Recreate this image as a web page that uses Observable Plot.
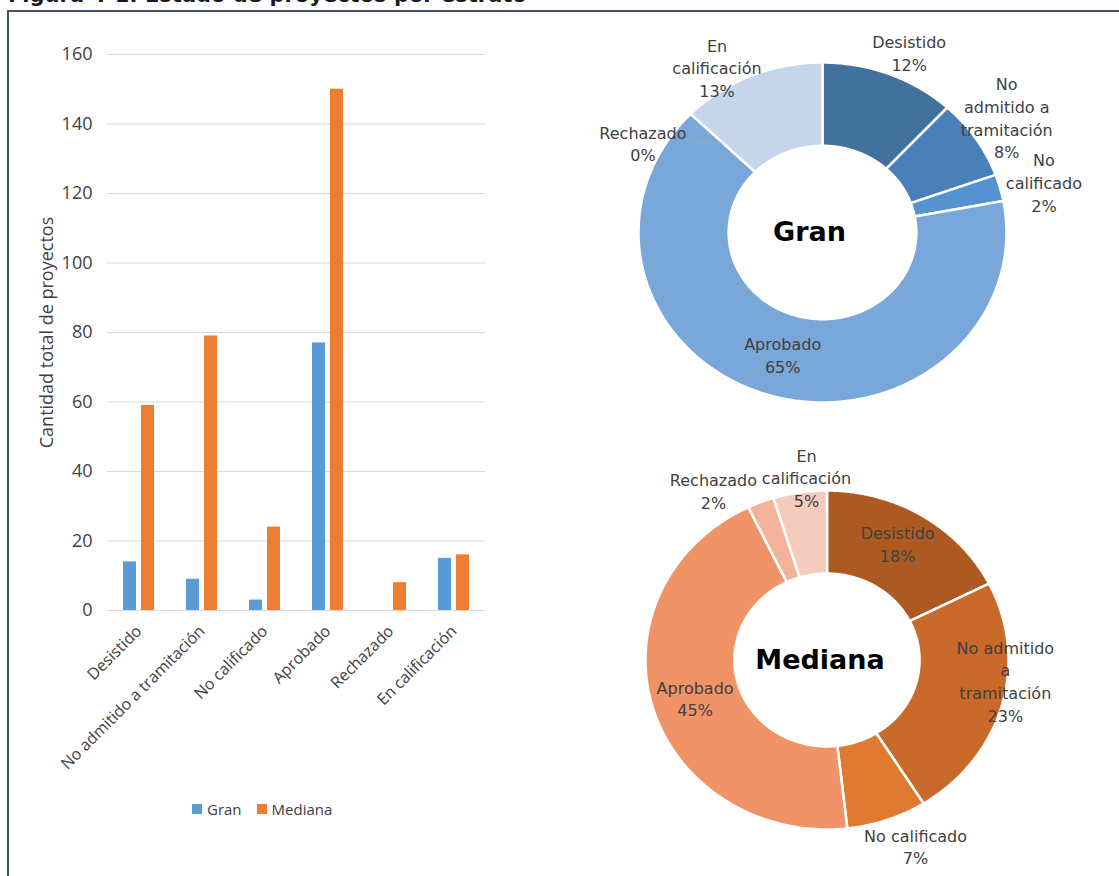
<!DOCTYPE html>
<html>
<head>
<meta charset="utf-8">
<script src="https://cdn.jsdelivr.net/npm/d3@7"></script>
<script src="https://cdn.jsdelivr.net/npm/@observablehq/plot@0.6"></script>
<style>
  html, body { margin: 0; padding: 0; background: #fff; }
  body { width: 1119px; height: 876px; overflow: hidden; position: relative; }
  #title { position: absolute; left: 8px; top: -15px; font: bold 21px "DejaVu Sans", sans-serif; line-height: 21px; color: #1a1a1a; white-space: nowrap; }
  #frame { position: absolute; left: 7px; top: 10px; width: 1300px; height: 1000px; border: 2px solid #44546a; box-sizing: border-box; }
  .pane { position: absolute; }
  .pane svg { overflow: visible; }
  #legend span { margin-right: 15px !important; }
  #legend svg { margin-right: 5px !important; }
</style>
</head>
<body>
<div id="title">Figura 4-1: Estado de proyectos por estrato</div>
<div id="frame"></div>
<div id="bars" class="pane" style="left:0;top:0;"></div>
<div id="legend" class="pane" style="left:192px;top:792px;"></div>
<div id="gran" class="pane" style="left:590px;top:20px;"></div>
<div id="mediana" class="pane" style="left:590px;top:430px;"></div>
<script>
// ---------------- data ----------------
const categories = ["Desistido", "No admitido a tramitación", "No calificado", "Aprobado", "Rechazado", "En calificación"];
const series = ["Gran", "Mediana"];
const granCounts = [14, 9, 3, 77, 0, 15];
const medianaCounts = [59, 79, 24, 150, 8, 16];
const yTicks = [0, 20, 40, 60, 80, 100, 120, 140, 160];
const granPctLabels = ["12%", "8%", "2%", "65%", "0%", "13%"];
const medianaPctLabels = ["18%", "23%", "7%", "45%", "2%", "5%"];
const granLabelNames = ["Desistido", "No\nadmitido a\ntramitación", "No\ncalificado", "Aprobado", "Rechazado", "En\ncalificación"];
const medianaLabelNames = ["Desistido", "No admitido\na\ntramitación", "No calificado", "Aprobado", "Rechazado", "En\ncalificación"];

// ---------------- styles ----------------
const seriesColors = ["#5b9bd5", "#ed7d31"];
const granColors = ["#41719c", "#4a80ba", "#5593d0", "#7aa7da", "#a9c3e6", "#c5d5ea"];
const medianaColors = ["#ad5a22", "#c9692a", "#df7a30", "#f09366", "#f3b39b", "#f5cbbd"];
// label placement: radius (in outer-radius units) and angular nudge (degrees) from slice middle
const granLabelLayout = [
  {r: 1.16, nudge: 2.6}, {r: 1.21, nudge: -0.6}, {r: 1.24, nudge: 1.3},
  {r: 0.75, nudge: 0}, {r: 1.11, nudge: -15.8, leader: true}, {r: 1.13, nudge: -7.6}
];
const medianaLabelLayout = [
  {r: 0.79, nudge: -2.1}, {r: 0.99, nudge: -8.5}, {r: 1.2, nudge: -4.7},
  {r: 0.76, nudge: -0.9}, {r: 1.18, nudge: -10.6}, {r: 1.085, nudge: 2.6}
];
const innerRatio = 0.51;

// ---------------- bar chart ----------------
const barData = categories.flatMap((c, i) => [
  {cat: c, series: "Gran", value: granCounts[i]},
  {cat: c, series: "Mediana", value: medianaCounts[i]}
]);

const bars = Plot.plot({
  width: 590, height: 876,
  marginLeft: 105, marginRight: 103, marginTop: 54, marginBottom: 266,
  style: {fontFamily: "'Open Sans', sans-serif", fontSize: "16px", color: "#404040", background: "transparent"},
  fx: {domain: categories, padding: 0, label: null, axis: "bottom", tickRotate: -45, tickSize: 0, tickPadding: 18},
  x: {domain: series, paddingInner: 0.263, paddingOuter: 0.807, axis: null},
  y: {domain: [0, 160], axis: null},
  color: {domain: series, range: seriesColors},
  marks: [
    Plot.gridY(yTicks, {stroke: "#d9d9d9", strokeOpacity: 1, strokeWidth: 1}),
    Plot.barY(barData, {fx: "cat", x: "series", y: "value", fill: "series"}),
    Plot.axisY(yTicks, {anchor: "left", tickSize: 0, tickPadding: 15, fontSize: 18,
      label: "Cantidad total de proyectos", labelAnchor: "center", labelArrow: "none", labelOffset: 67})
  ]
});
document.getElementById("bars").append(bars);

const legend = Plot.legend({
  color: {domain: series, range: seriesColors},
  swatchSize: 10,
  style: {fontFamily: "'Open Sans', sans-serif", fontSize: "15px", color: "#404040"}
});
document.getElementById("legend").append(legend);

// ---------------- donuts ----------------
function donut({counts, pctLabels, names, colors, title, titleDx, layout, width, height, margins}) {
  const arcs = d3.pie().sort(null).value(d => d)(counts);
  const rows = [];
  arcs.forEach((a, i) => {
    const span = a.endAngle - a.startAngle;
    const n = Math.max(2, Math.ceil(span / 0.01));
    const pts = [];
    for (let k = 0; k <= n; k++) {
      const t = a.startAngle + span * k / n;
      pts.push({cat: categories[i], x: Math.sin(t), y: Math.cos(t)});
    }
    for (let k = n; k >= 0; k--) {
      const t = a.startAngle + span * k / n;
      pts.push({cat: categories[i], x: innerRatio * Math.sin(t), y: innerRatio * Math.cos(t)});
    }
    pts.push({...pts[0]});
    rows.push(...pts);
  });
  const labels = arcs.map((a, i) => {
    const m = (a.startAngle + a.endAngle) / 2 + layout[i].nudge * Math.PI / 180;
    return {x: layout[i].r * Math.sin(m), y: layout[i].r * Math.cos(m), text: names[i] + "\n" + pctLabels[i]};
  });
  const leaders = [];
  arcs.forEach((a, i) => {
    if (!layout[i].leader) return;
    const m = (a.startAngle + a.endAngle) / 2;
    const rm = (1 + innerRatio) / 2;
    const ex = rm * Math.sin(m), ey = rm * Math.cos(m);
    leaders.push({x1: labels[i].x + 0.28, y1: ey, x2: ex, y2: ey});
  });
  return Plot.plot({
    width, height,
    marginLeft: margins[0], marginRight: margins[1], marginTop: margins[2], marginBottom: margins[3],
    style: {fontFamily: "'DejaVu Sans', sans-serif", fontSize: "16px", background: "transparent", overflow: "visible"},
    x: {domain: [-1, 1], axis: null},
    y: {domain: [-1, 1], axis: null},
    color: {domain: categories, range: colors},
    marks: [
      Plot.line(rows, {x: "x", y: "y", z: "cat", fill: "cat", stroke: "white", strokeWidth: 2.5, curve: "linear"}),
      Plot.link(leaders, {x1: "x1", y1: "y1", x2: "x2", y2: "y2", stroke: "#a6a6a6", strokeWidth: 1}),
      Plot.text(labels, {x: "x", y: "y", text: "text", fill: "#404040", fontSize: 16, lineHeight: 1.42}),
      Plot.text([title], {x: () => 0, y: () => 0, text: d => d, dx: titleDx, fill: "#000", fontSize: 27, fontWeight: "bold"})
    ]
  });
}

document.getElementById("gran").append(donut({
  counts: granCounts, pctLabels: granPctLabels, names: granLabelNames, colors: granColors,
  title: "Gran", titleDx: -13, layout: granLabelLayout, width: 529, height: 410, margins: [48, 113, 42, 28]
}));
document.getElementById("mediana").append(donut({
  counts: medianaCounts, pctLabels: medianaPctLabels, names: medianaLabelNames, colors: medianaColors,
  title: "Mediana", titleDx: -7, layout: medianaLabelLayout, width: 529, height: 446, margins: [55, 111, 60, 47]
}));
</script>
</body>
</html>
